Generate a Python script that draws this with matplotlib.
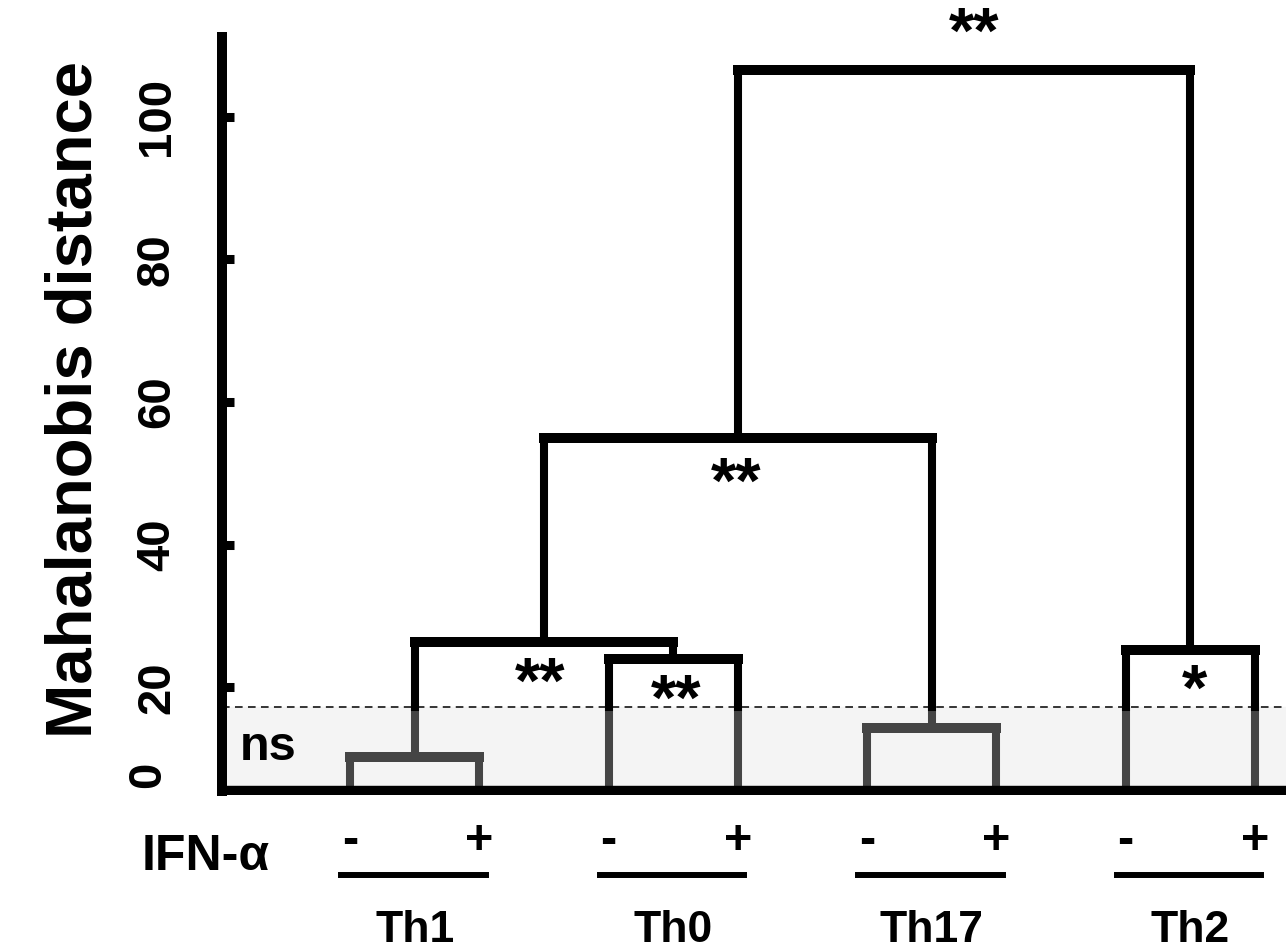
import matplotlib
matplotlib.use('agg')
import matplotlib.pyplot as plt

plt.rcParams['font.family'] = ['Liberation Sans', 'DejaVu Sans']
plt.rcParams['font.weight'] = 'bold'

# leaves in plotting order
leaf_labels = ['Th1 -', 'Th1 +', 'Th0 -', 'Th0 +', 'Th17 -', 'Th17 +', 'Th2 -', 'Th2 +']
groups = ['Th1', 'Th0', 'Th17', 'Th2']
ifn_signs = ['-', '+']

# merges: (left node, right node, height); new nodes numbered from 8 on
merge_left = [0, 2, 4, 6, 8, 12, 13]
merge_right = [1, 3, 5, 7, 9, 10, 11]
merge_height = [10.3, 23.9, 14.3, 25.2, 26.4, 54.9, 106.5]
merge_sig = ['', '**', '', '*', '**', '**', '**']

ns_level = 17.2
base_level = 5.45
ytick_vals = [20, 40, 60, 80, 100]

fig = plt.figure(figsize=(12.86, 9.51), dpi=100)
ax = fig.add_axes([222 / 1286, 156 / 951, 1 - 222 / 1286, 758 / 951])
ax.set_xlim(-0.99, 7.24)
ax.set_ylim(35 / 7.135, 793 / 7.135)

black = '#000000'
grey = '#454545'


def seg(x0, y0, x1, y1, lw):
    kw = dict(lw=lw, solid_capstyle='projecting', zorder=3)
    if x0 == x1:
        lo, hi = min(y0, y1), max(y0, y1)
        if hi <= ns_level:
            ax.plot([x0, x1], [lo, hi], color=grey, **kw)
        elif lo >= ns_level:
            ax.plot([x0, x1], [lo, hi], color=black, **kw)
        else:
            ax.plot([x0, x1], [lo, ns_level], color=grey, **kw)
            ax.plot([x0, x1], [ns_level, hi], color=black, **kw)
    else:
        ax.plot([x0, x1], [y0, y1], color=grey if y0 <= ns_level else black, **kw)


node_x = list(range(len(leaf_labels)))
node_h = [base_level] * len(leaf_labels)
for l, r, h in zip(merge_left, merge_right, merge_height):
    xl, xr = node_x[l], node_x[r]
    seg(xl, node_h[l], xl, h, 5.8)
    seg(xr, node_h[r], xr, h, 5.8)
    seg(xl, h, xr, h, 7.2)
    node_x.append((xl + xr) / 2)
    node_h.append(h)

# significance stars (offsets placed by hand)
star_pos = {1: (2.52, 15.4), 3: (6.53, 16.9), 4: (1.47, 17.8), 5: (2.99, 45.8), 6: (4.83, 109.0)}
for i, s in enumerate(merge_sig):
    if s:
        sx, sy = star_pos[i]
        ax.text(sx, sy, s, ha='center', va='baseline', fontsize=47,
                fontweight='bold', clip_on=False, zorder=5)

# non-significant band
ax.axhspan(base_level, ns_level, color='#f4f4f4', zorder=1)
ax.axhline(ns_level, color='black', lw=1.1, ls=(0, (5, 3.5)), zorder=2)
ax.axhline(base_level + 0.6, color='black', lw=1.1, ls=(0, (5, 3.5)), zorder=2)
ax.axhline(base_level, color='black', lw=7.5, zorder=4)
ax.text(-0.85, 11.5, 'ns', ha='left', va='center', fontsize=35, fontweight='bold', zorder=5)

# axes styling
for side in ['top', 'right', 'bottom']:
    ax.spines[side].set_visible(False)
ax.spines['left'].set_linewidth(7.2)
ax.spines['left'].set_bounds(base_level, 111.1)
ax.spines['left'].set_zorder(6)
ax.set_xticks([])
ax.set_yticks(ytick_vals, labels=[str(v) for v in ytick_vals])
ax.set_yticks([7.7], labels=['0'], minor=True)
ax.tick_params(axis='y', which='major', direction='in', length=8.5, width=6.5,
               pad=31, labelsize=34, labelrotation=90)
ax.tick_params(axis='y', which='minor', length=0, pad=37, labelsize=34, labelrotation=90)
for t in ax.get_yticklabels(which='both'):
    t.set_fontweight('bold')
    t.set_va('center')

fig.text(75 / 1286, 1 - 400 / 951, 'Mahalanobis distance', rotation=90,
         ha='center', va='center', fontsize=47, fontweight='bold')

# IFN-alpha row and group labels
ax.text(-1.615, -5.63, 'IFN-α', ha='left', va='baseline', fontsize=36,
        fontweight='bold', clip_on=False)
for g, name in enumerate(groups):
    xm, xp = 2 * g, 2 * g + 1
    for x, s in zip([xm, xp], ifn_signs):
        ax.text(x, -3.36, s, ha='center', va='baseline', fontsize=35,
                fontweight='bold', clip_on=False)
    ax.plot([xm - 0.07, xp + 0.05], [-6.3, -6.3], color='black', lw=4.3, clip_on=False)
    ax.text((xm + xp) / 2, -15.75, name, ha='center', va='baseline', fontsize=32,
            fontweight='bold', clip_on=False)

plt.savefig('out.png', dpi=100)
